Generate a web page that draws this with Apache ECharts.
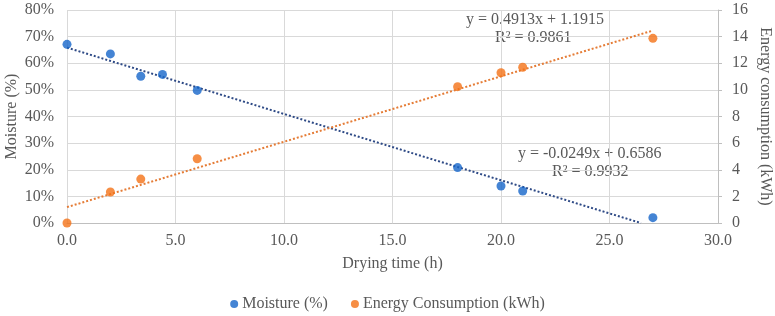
<!DOCTYPE html>
<html><head><meta charset="utf-8">
<script src="https://cdn.jsdelivr.net/npm/echarts@6/dist/echarts.min.js"></script>
<style>html,body{margin:0;padding:0;background:#fff}#c{width:775px;height:316px}</style>
</head><body><div id="c"></div>
<script>
var dryingTime = [0, 2.0, 3.4, 4.4, 6.0, 18.0, 20.0, 21.0, 27.0];
var moisture = [0.671, 0.635, 0.551, 0.558, 0.498, 0.208, 0.139, 0.120, 0.020];
var energyTime = [0, 2.0, 3.4, 6.0, 18.0, 20.0, 21.0, 27.0];
var energy = [0, 2.33, 3.3, 4.83, 10.24, 11.29, 11.7, 13.87];
var moistureTrend = [[0, 0.6586], [26.45, 0]];
var energyTrend = [[0, 1.1915], [27, 14.457]];
var xTicks = {min: 0, max: 30, interval: 5};
var eqEnergy = ['y = 0.4913x + 1.1915', 'R² = 0.9861'];
var eqMoisture = ['y = -0.0249x + 0.6586', 'R² = 0.9932'];

var font = 'Liberation Serif';
var txt = '#595959';
var fs = 16;
var chart = echarts.init(document.getElementById('c'), null, {renderer: 'canvas'});
function pairs(xs, ys){ return xs.map(function(x,i){return [x, ys[i]];}); }
var tfont = fs + 'px "Liberation Serif"';
chart.setOption({
  animation: false,
  textStyle: {fontFamily: font},
  grid: {left: 67, right: 57, top: 10, bottom: 93, containLabel: false, outerBoundsMode: 'none'},
  legend: {
    top: 291, left: 'center', itemWidth: 8, itemHeight: 8, itemGap: 23,
    icon: 'circle',
    textStyle: {fontFamily: font, fontSize: fs, color: txt, padding: [0,0,0,-1]},
    data: ['Moisture (%)', 'Energy Consumption (kWh)']
  },
  xAxis: {
    type: 'value', min: xTicks.min, max: xTicks.max, interval: xTicks.interval,
    name: 'Drying time (h)', nameLocation: 'middle', nameGap: 33, nameMoveOverlap: false,
    nameTextStyle: {fontFamily: font, fontSize: fs, color: txt},
    axisLine: {show: true, lineStyle: {color: '#BFBFBF'}},
    axisTick: {show: false},
    axisLabel: {fontFamily: font, fontSize: fs, color: txt, margin: 10, formatter: function(v){return v.toFixed(1);}},
    splitLine: {show: true, lineStyle: {color: '#D9D9D9'}}
  },
  yAxis: [{
    type: 'value', min: 0, max: 0.8, interval: 0.1, position: 'left',
    name: 'Moisture (%)', nameLocation: 'middle', nameGap: 47, nameRotate: 90, nameMoveOverlap: false,
    nameTextStyle: {fontFamily: font, fontSize: fs, color: txt},
    axisLine: {show: false}, axisTick: {show: false},
    axisLabel: {fontFamily: font, fontSize: fs, color: txt, margin: 13, formatter: function(v){return Math.round(v*100)+'%';}},
    splitLine: {show: true, lineStyle: {color: '#D9D9D9'}}
  }, {
    type: 'value', min: 0, max: 16, interval: 2, position: 'right',
    name: 'Energy consumption (kWh)', nameLocation: 'middle', nameGap: 39, nameRotate: -90, nameMoveOverlap: false,
    nameTextStyle: {fontFamily: font, fontSize: fs, color: txt},
    axisLine: {show: true, lineStyle: {color: '#BFBFBF'}},
    axisTick: {show: true, length: 4, lineStyle: {color: '#BFBFBF'}},
    axisLabel: {fontFamily: font, fontSize: fs, color: txt, margin: 14},
    splitLine: {show: false}
  }],
  series: [{
    name: 'Moisture trend', type: 'line', yAxisIndex: 0, data: moistureTrend,
    showSymbol: false, symbol: 'none', silent: true,
    lineStyle: {color: '#2E4A86', width: 2, type: [2, 2]}, z: 1
  }, {
    name: 'Energy trend', type: 'line', yAxisIndex: 1, data: energyTrend,
    showSymbol: false, symbol: 'none', silent: true,
    lineStyle: {color: '#E57C36', width: 2, type: [2, 2]}, z: 1
  }, {
    name: 'Moisture (%)', type: 'scatter', yAxisIndex: 0, data: pairs(dryingTime, moisture),
    symbolSize: 9, itemStyle: {color: '#1565C9'}, z: 3
  }, {
    name: 'Energy Consumption (kWh)', type: 'scatter', yAxisIndex: 1, data: pairs(energyTime, energy),
    symbolSize: 9, itemStyle: {color: '#F47216'}, z: 3
  }],
  graphic: [
    {type: 'text', x: 466, y: 20, style: {text: eqEnergy[0], font: tfont, fill: txt, verticalAlign: 'middle'}},
    {type: 'text', x: 495, y: 38, style: {text: eqEnergy[1], font: tfont, fill: txt, verticalAlign: 'middle'}},
    {type: 'text', x: 518, y: 154, style: {text: eqMoisture[0], font: tfont, fill: txt, verticalAlign: 'middle'}},
    {type: 'text', x: 552, y: 172, style: {text: eqMoisture[1], font: tfont, fill: txt, verticalAlign: 'middle'}}
  ]
});
</script></body></html>
